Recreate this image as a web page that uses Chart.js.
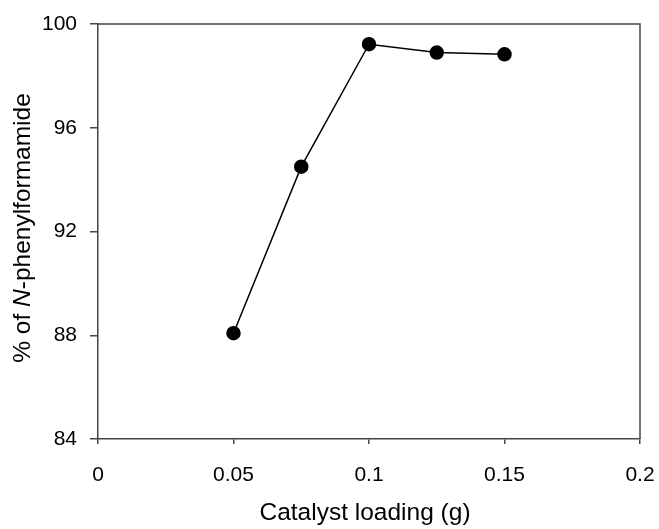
<!DOCTYPE html>
<html>
<head>
<meta charset="utf-8">
<script src="https://cdn.jsdelivr.net/npm/chart.js@4"></script>
<style>
  html, body { margin: 0; padding: 0; background: #fff; }
  #wrap { width: 659px; height: 529px; }
</style>
</head>
<body>
<div id="wrap"><canvas id="c" width="659" height="529"></canvas></div>
<script>
// catalyst loading (g) and yield (%)
const loading = [0.05, 0.075, 0.1, 0.125, 0.15];
const yieldPct = [88.08, 94.5, 99.22, 98.9, 98.83];
const xTicks = [0, 0.05, 0.1, 0.15, 0.2];
const yTicks = [84, 88, 92, 96, 100];
const xLabels = ["0", "0.05", "0.1", "0.15", "0.2"];

const FONT = "'Liberation Sans', Arial, sans-serif";
const AXIS = "#444";
const TITLE = "24.5px ";

// frame + axis titles
const extras = {
    id: "extras",
    afterDraw(chart) {
        const c = chart.ctx, a = chart.chartArea;
        c.save();
        c.strokeStyle = AXIS;
        c.lineWidth = 1.5;
        c.beginPath();
        c.moveTo(a.left, a.top);
        c.lineTo(a.right, a.top);
        c.lineTo(a.right, a.bottom);
        c.stroke();

        c.fillStyle = "#000";
        c.textBaseline = "middle";
        c.textAlign = "center";
        c.font = TITLE + FONT;
        c.fillText("Catalyst loading (g)", 365, 513);

        // y title with italic N
        const parts = [["% of ", TITLE], ["N", "italic " + TITLE], ["-phenylformamide", TITLE]];
        let total = 0;
        parts.forEach(p => { c.font = p[1] + FONT; total += c.measureText(p[0]).width; });
        c.translate(23, 228);
        c.rotate(-Math.PI / 2);
        c.textAlign = "left";
        let x = -total / 2;
        parts.forEach(p => {
            c.font = p[1] + FONT;
            c.fillText(p[0], x, 0);
            x += c.measureText(p[0]).width;
        });
        c.restore();
    }
};

function noPad(s) {
    s.paddingLeft = 0;
    s.paddingRight = 0;
    s.paddingTop = 0;
    s.paddingBottom = 0;
}

new Chart(document.getElementById("c"), {
    type: "scatter",
    data: {
        datasets: [{
            data: loading.map((v, i) => ({ x: v, y: yieldPct[i] })),
            showLine: true,
            borderColor: "#000",
            borderWidth: 1.5,
            backgroundColor: "#000",
            pointRadius: 6.5,
            pointHoverRadius: 6.5
        }]
    },
    options: {
        responsive: false,
        animation: false,
        layout: { padding: { top: 24, right: 19, left: 0, bottom: 0 } },
        scales: {
            x: {
                type: "linear",
                min: 0,
                max: 0.2,
                afterBuildTicks: s => { s.ticks = xTicks.map(v => ({ value: v })); },
                afterFit: s => { s.height = 90; noPad(s); },
                ticks: {
                    callback: (v, i) => xLabels[i],
                    color: "#000",
                    font: { size: 21, family: FONT },
                    padding: 19,
                    maxRotation: 0
                },
                grid: { drawOnChartArea: false, color: AXIS, tickLength: 5, lineWidth: 1.5 },
                border: { color: AXIS, width: 1.5 }
            },
            y: {
                min: 84,
                max: 100,
                afterBuildTicks: s => { s.ticks = yTicks.map(v => ({ value: v })); },
                afterFit: s => { s.width = 98; noPad(s); },
                ticks: {
                    color: "#000",
                    font: { size: 21, family: FONT },
                    padding: 13
                },
                grid: { drawOnChartArea: false, color: AXIS, tickLength: 8, lineWidth: 1.5 },
                border: { color: AXIS, width: 1.5 }
            }
        },
        plugins: {
            legend: { display: false },
            tooltip: { enabled: false }
        }
    },
    plugins: [extras]
});
</script>
</body>
</html>
